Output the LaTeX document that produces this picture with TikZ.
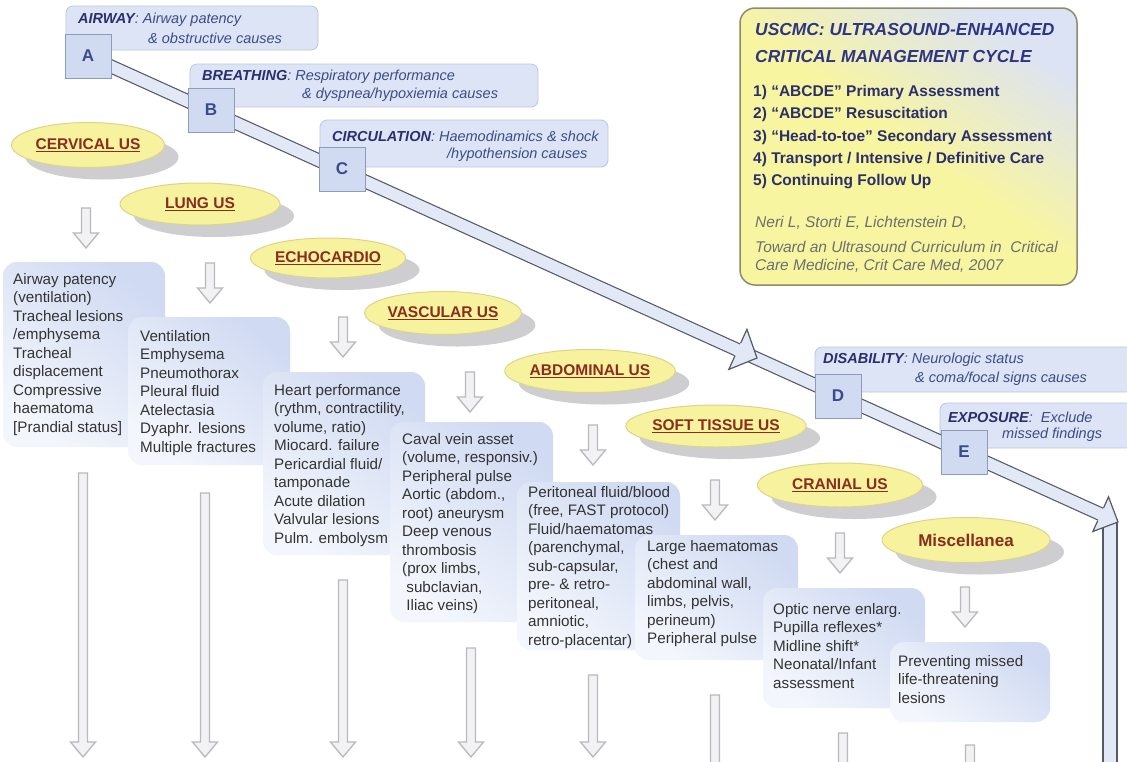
\documentclass[tikz,border=0pt]{standalone}
\usepackage{fontspec}
\setmainfont{Liberation Sans}
\usetikzlibrary{calc,shapes.geometric,shadows}
\definecolor{hdrfill}{HTML}{DCE4F6}
\definecolor{hdrline}{HTML}{BAC6E2}
\definecolor{sqfill}{HTML}{D0DBF2}
\definecolor{sqline}{HTML}{8F9BBB}
\definecolor{sqtext}{HTML}{3A4A8C}
\definecolor{hdrbold}{HTML}{2A2E6E}
\definecolor{hdrtext}{HTML}{3D4C85}
\definecolor{bandline}{HTML}{555A66}
\definecolor{bandfill}{HTML}{E3E8F6}
\definecolor{ellfill}{HTML}{F7F29E}
\definecolor{ellline}{HTML}{DCD48A}
\definecolor{ellshadow}{HTML}{C9C9CB}
\definecolor{elltext}{HTML}{8A2C1E}
\definecolor{boxtop}{HTML}{D0DAF2}
\definecolor{boxbot}{HTML}{F3F6FC}
\definecolor{bodytext}{HTML}{333333}
\definecolor{arrline}{HTML}{B9B9BD}
\definecolor{arrfill}{HTML}{F2F2F4}
\definecolor{ybline}{HTML}{8C8B6E}
\definecolor{ybyellow}{HTML}{F8F5A0}
\definecolor{ybblue}{HTML}{DCE3F4}
\definecolor{ybtitle}{HTML}{2F3585}
\definecolor{yblist}{HTML}{2B2F6B}
\definecolor{ybcite}{HTML}{6E6E70}
\tikzset{
  hdr/.style={draw=hdrline, fill=hdrfill, rounded corners=7pt, line width=0.8pt},
  sq/.style={draw=sqline, fill=sqfill, line width=1pt, minimum width=46pt, minimum height=44pt, inner sep=0pt, font=\fontsize{17}{20}\selectfont\bfseries, text=sqtext},
  htxt/.style={inner sep=0pt, anchor=west, font=\fontsize{14.5}{17}\selectfont\itshape, text=hdrtext},
  bandout/.style={draw=bandline, line width=14pt},
  bandin/.style={draw=bandfill, line width=11.6pt},
  bandhead/.style={fill=bandfill, draw=bandline, line width=1.2pt, line join=miter},
  ell/.style={ellipse, draw=ellline, fill=ellfill, line width=1pt, inner sep=0pt, font=\fontsize{15.5}{18}\selectfont\bfseries, text=elltext, drop shadow={shadow xshift=14pt, shadow yshift=-12pt, fill=ellshadow, opacity=0.9}},
  bbox/.style={top color=boxtop, bottom color=boxbot, shading angle=-40, rounded corners=14pt},
  body/.style={inner sep=0pt, anchor=north west, align=left, font=\fontsize{15.2}{18.5}\selectfont, text=bodytext},
  ybox/.style={draw=ybline, line width=1.5pt, rounded corners=15pt, top color=ybblue, bottom color=ybyellow, middle color=ybyellow, shading angle=-35},
  yt/.style={inner sep=0pt, anchor=west, font=\fontsize{17.4}{20}\selectfont\bfseries\itshape, text=ybtitle},
  yl/.style={inner sep=0pt, anchor=west, font=\fontsize{15.5}{18}\selectfont\bfseries, text=yblist},
  yc/.style={inner sep=0pt, anchor=west, font=\fontsize{15.5}{18}\selectfont\itshape, text=ybcite},
  arrstyle/.style={draw=arrline, fill=arrfill, line width=1.3pt, line join=miter},
  pics/dnarr/.style={code={
    \filldraw[arrstyle] (-4.5,0) -- (-4.5,#1-15) -- (-12.5,#1-15) -- (0,#1) -- (12.5,#1-15) -- (4.5,#1-15) -- (4.5,0) -- cycle;
  }}
}
\begin{document}
\begin{tikzpicture}[x=1pt,y=-1pt]
\useasboundingbox (0,0) rectangle (1127,761);
\clip (0,0) rectangle (1127,761);
\fill[white] (0,0) rectangle (1127,761);

% ---- header boxes
\draw[hdr] (66,6) rectangle (318,50);
\node[htxt] (airT1) at (78,20) {{\color{hdrbold}\bfseries AIRWAY}: Airway patency};
\node[htxt] (airT2) at (148,38) {\& obstructive causes};
\draw[hdr] (190,64) rectangle (538,107);
\node[htxt] (brT1) at (202,77) {{\color{hdrbold}\bfseries BREATHING}: Respiratory performance};
\node[htxt] (brT2) at (302,95) {\& dyspnea/hypoxiemia causes};
\draw[hdr] (320,120) rectangle (608,167);
\node[htxt] (ciT1) at (332,136) {{\color{hdrbold}\bfseries CIRCULATION}: Haemodinamics \& shock};
\node[htxt] (ciT2) at (447,155) {/hypothension causes};
\draw[hdr] (815,347) rectangle (1145,392);
\node[htxt] (diT1) at (823,360) {{\color{hdrbold}\bfseries DISABILITY}: Neurologic status};
\node[htxt] (diT2) at (915,379) {\& coma/focal signs causes};
\draw[hdr] (940,403) rectangle (1145,448);
\node[htxt] (exT1) at (948,417) {{\color{hdrbold}\bfseries EXPOSURE}:\ \ Exclude};
\node[htxt] (exT2) at (1002,435) {missed findings};

% ---- big band
\coordinate (Ac) at (88,56);
\coordinate (tipEnd) at (1118,522);
\coordinate (tipMid) at (757,358);
\filldraw[fill=bandfill, draw=bandline, line width=1.2pt] (1103,520) rectangle (1117,775);
\draw[bandout] (Ac) -- ($(tipEnd)!14pt!(Ac)$);
\draw[bandin] (Ac) -- ($(tipEnd)!14pt!(Ac)$);
\coordinate (bM) at ($(tipMid)!21pt!(Ac)$);
\filldraw[bandhead] ($(bM)!7pt!90:(tipMid)$) -- ($(bM)!22pt!90:(tipMid)$) -- (tipMid) -- ($(bM)!22pt!-90:(tipMid)$) -- ($(bM)!7pt!-90:(tipMid)$);
\coordinate (bE) at ($(tipEnd)!19pt!(Ac)$);
\filldraw[bandhead] ($(bE)!7pt!90:(tipEnd)$) -- ($(bE)!19pt!90:(tipEnd)$) -- (tipEnd) -- ($(bE)!19pt!-90:(tipEnd)$) -- ($(bE)!7pt!-90:(tipEnd)$);

% ---- squares
\node[sq] (A) at (88,56) {A};
\node[sq] (B) at (211,110) {B};
\node[sq] (C) at (342,169) {C};
\node[sq] (D) at (838,396) {D};
\node[sq] (E) at (964,452) {E};

% ---- yellow box
\draw[ybox] (740,8) rectangle (1077,285);
\node[yt] (yb1) at (755,30) {USCMC: ULTRASOUND-ENHANCED};
\node[yt] (yb2) at (755,57) {CRITICAL MANAGEMENT CYCLE};
\node[yl] (yl1) at (753,92) {1) “ABCDE” Primary Assessment};
\node[yl] (yl2) at (753,114) {2) “ABCDE” Resuscitation};
\node[yl] (yl3) at (753,137) {3) “Head-to-toe” Secondary Assessment};
\node[yl] (yl4) at (753,159) {4) Transport / Intensive / Definitive Care};
\node[yl] (yl5) at (753,182) {5) Continuing Follow Up};
\node[yc] (yc1) at (755,223) {Neri L, Storti E, Lichtenstein D,};
\node[yc] (yc2) at (755,247) {Toward an Ultrasound Curriculum in\ \ Critical};
\node[yc] (yc3) at (755,266) {Care Medicine, Crit Care Med, 2007};

% ---- ellipses
\node[ell, minimum width=153pt, minimum height=45pt] (cerv) at (88,145) {\underline{CERVICAL US}};
\node[ell, minimum width=160pt, minimum height=42pt] (lung) at (200,204) {\underline{LUNG US}};
\node[ell, minimum width=155pt, minimum height=40pt] (echo) at (328,258) {\underline{ECHOCARDIO}};
\node[ell, minimum width=150pt, minimum height=43pt] (vasc) at (443,313) {\underline{VASCULAR US}};
\node[ell, minimum width=164pt, minimum height=43pt] (abd) at (590,371) {\underline{ABDOMINAL US}};
\node[ell, minimum width=168pt, minimum height=42pt] (soft) at (716,426) {\underline{SOFT TISSUE US}};
\node[ell, minimum width=165pt, minimum height=44pt] (cran) at (840,485) {\underline{CRANIAL US}};
\node[ell, minimum width=168pt, minimum height=45pt, font=\fontsize{17}{20}\selectfont\bfseries] (misc) at (966,540) {Miscellanea};

% ---- small arrows
\pic (s1) at (86,208) {dnarr=40};
\pic (s2) at (210,263) {dnarr=40};
\pic (s3) at (343,317) {dnarr=40};
\pic (s4) at (470,372) {dnarr=40};
\pic (s5) at (593,425) {dnarr=40};
\pic (s6) at (715,480) {dnarr=40};
\pic (s7) at (840,533) {dnarr=40};
\pic (s8) at (965,587) {dnarr=40};

% ---- text boxes
\shade[bbox] (3,262) rectangle (165,447);
\node[body] (t1) at (13,273) {Airway patency\\(ventilation)\\Tracheal lesions\\/emphysema\\Tracheal\\displacement\\Compressive\\haematoma\\{[}Prandial status{]}};
\shade[bbox] (128,317) rectangle (290,465);
\node[body] (t2) at (140,330) {Ventilation\\Emphysema\\Pneumothorax\\Pleural fluid\\Atelectasia\\Dyaphr. lesions\\Multiple fractures};
\shade[bbox] (263,372) rectangle (425,555);
\node[body] (t3) at (274,384) {Heart performance\\(rythm, contractility,\\volume, ratio)\\Miocard. failure\\Pericardial fluid/\\tamponade\\Acute dilation\\Valvular lesions\\Pulm. embolysm};
\shade[bbox] (390,422) rectangle (553,622);
\node[body] (t4) at (402,433) {Caval vein asset\\(volume, responsiv.)\\Peripheral pulse\\Aortic (abdom.,\\root) aneurysm\\Deep venous\\thrombosis\\(prox limbs,\\\ subclavian,\\\ Iliac veins)};
\shade[bbox] (517,482) rectangle (680,650);
\node[body] (t5) at (528,486) {Peritoneal fluid/blood\\(free, FAST protocol)\\Fluid/haematomas\\(parenchymal,\\sub-capsular,\\pre- \& retro-\\peritoneal,\\amniotic,\\retro-placentar)};
\shade[bbox] (635,535) rectangle (798,660);
\node[body] (t6) at (647,540) {Large haematomas\\(chest and\\abdominal wall,\\limbs, pelvis,\\perineum)\\Peripheral pulse};
\shade[bbox] (763,588) rectangle (925,708);
\node[body] (t7) at (773,603) {Optic nerve enlarg.\\Pupilla reflexes*\\Midline shift*\\Neonatal/Infant\\assessment};
\shade[bbox] (890,642) rectangle (1050,722);
\node[body] (t8) at (898,655) {Preventing missed\\life-threatening\\lesions};

% ---- long arrows
\pic (l1) at (83,473) {dnarr=284};
\pic (l2) at (205,493) {dnarr=264};
\pic (l3) at (343,580) {dnarr=177};
\pic (l4) at (471,648) {dnarr=109};
\pic (l5) at (593,675) {dnarr=82};
\pic (l6) at (715,695) {dnarr=110};
\pic (l7) at (843,733) {dnarr=80};
\pic (l8) at (970,745) {dnarr=70};
\end{tikzpicture}
\end{document}
